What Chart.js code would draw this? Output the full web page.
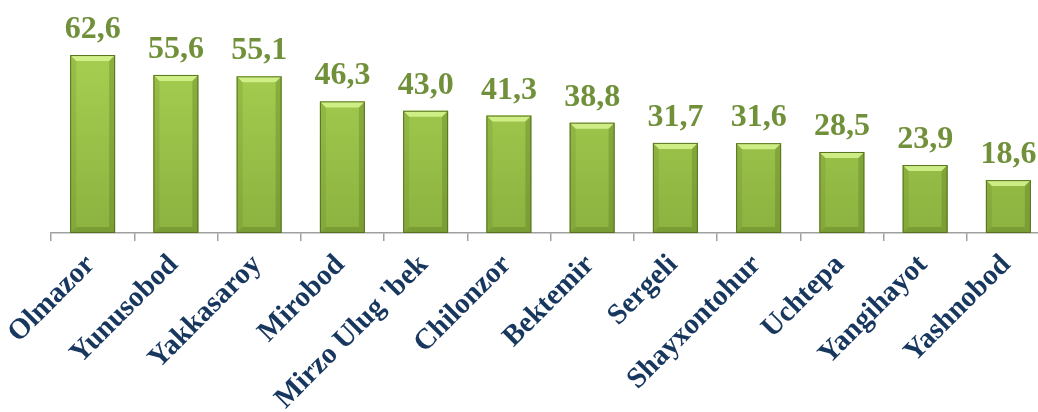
<!DOCTYPE html>
<html>
<head>
<meta charset="utf-8">
<script src="https://cdn.jsdelivr.net/npm/chart.js@4"></script>
<style>
  html, body { margin: 0; padding: 0; background: #fff; overflow: hidden; }
  #wrap { position: relative; width: 1050px; height: 412px; }
</style>
</head>
<body>
<div id="wrap"><canvas id="chart"></canvas></div>
<script>
const districts = ['Olmazor', 'Yunusobod', 'Yakkasaroy', 'Mirobod', "Mirzo Ulug 'bek", 'Chilonzor',
    'Bektemir', 'Sergeli', 'Shayxontohur', 'Uchtepa', 'Yangihayot', 'Yashnobod'];
const values = [62.6, 55.6, 55.1, 46.3, 43.0, 41.3, 38.8, 31.7, 31.6, 28.5, 23.9, 18.6];

const SERIF = "'Liberation Serif', 'Times New Roman', serif";

// bevel look of the bars (light top edge, darker sides/bottom)
const bevelPlugin = {
    id: 'bevel',
    afterDatasetsDraw(chart) {
        const ctx = chart.ctx;
        const meta = chart.getDatasetMeta(0);
        const b = 6;
        ctx.save();
        meta.data.forEach(bar => {
            const l = bar.x - bar.width / 2, r = bar.x + bar.width / 2;
            const t = bar.y, btm = bar.base;
            ctx.fillStyle = 'rgba(215, 245, 145, 0.85)';
            ctx.beginPath();
            ctx.moveTo(l, t); ctx.lineTo(r, t); ctx.lineTo(r - b, t + b); ctx.lineTo(l + b, t + b);
            ctx.closePath(); ctx.fill();
            ctx.fillStyle = 'rgba(80, 110, 25, 0.3)';
            ctx.beginPath();
            ctx.moveTo(r, t); ctx.lineTo(r, btm); ctx.lineTo(r - b, btm - b); ctx.lineTo(r - b, t + b);
            ctx.closePath(); ctx.fill();
            ctx.beginPath();
            ctx.moveTo(l, btm); ctx.lineTo(r, btm); ctx.lineTo(r - b, btm - b); ctx.lineTo(l + b, btm - b);
            ctx.closePath(); ctx.fill();
            ctx.fillStyle = 'rgba(80, 110, 25, 0.15)';
            ctx.beginPath();
            ctx.moveTo(l, t); ctx.lineTo(l, btm); ctx.lineTo(l + b, btm - b); ctx.lineTo(l + b, t + b);
            ctx.closePath(); ctx.fill();
            ctx.strokeStyle = '#56731f';
            ctx.lineWidth = 1;
            ctx.strokeRect(l + 0.5, t + 0.5, bar.width - 1, btm - t - 1);
        });
        ctx.restore();
    }
};

const valueLabels = {
    id: 'valueLabels',
    afterDatasetsDraw(chart) {
        const ctx = chart.ctx;
        const meta = chart.getDatasetMeta(0);
        ctx.save();
        ctx.font = 'bold 32px ' + SERIF;
        ctx.fillStyle = '#71903a';
        ctx.textAlign = 'center';
        ctx.textBaseline = 'alphabetic';
        meta.data.forEach((bar, i) => {
            ctx.fillText(values[i].toFixed(1).replace('.', ','), bar.x, bar.y - 17);
        });
        ctx.restore();
    }
};

const canvas = document.getElementById('chart');
const g = canvas.getContext('2d');

new Chart(canvas, {
    type: 'bar',
    data: {
        labels: districts,
        datasets: [{
            data: values,
            backgroundColor: (c) => {
                const area = c.chart.chartArea;
                if (!area) return '#9bc34a';
                const grad = g.createLinearGradient(0, area.top, 0, area.bottom);
                grad.addColorStop(0, '#a9d252');
                grad.addColorStop(1, '#8cb240');
                return grad;
            },
            borderWidth: 0,
            barPercentage: 0.54,
            categoryPercentage: 1.0,
        }],
    },
    options: {
        responsive: true,
        maintainAspectRatio: false,
        animation: false,
        layout: { padding: { left: 51, top: 34, right: 0, bottom: 0 } },
        plugins: {
            legend: { display: false },
            tooltip: { enabled: false },
        },
        scales: {
            x: {
                offset: true,
                border: { color: '#a0a0a0', width: 1.5 },
                grid: { offset: true, drawOnChartArea: false, color: '#a0a0a0', tickLength: 8, lineWidth: 1.5 },
                ticks: {
                    color: '#17375e',
                    font: { family: SERIF, size: 29, weight: 'bold' },
                    minRotation: 45,
                    maxRotation: 45,
                    autoSkip: false,
                    padding: 7,
                    labelOffset: -2,
                },
                afterFit(scale) { scale.height = 179; },
            },
            y: {
                display: false,
                min: 0,
                max: 70,
            },
        },
    },
    plugins: [bevelPlugin, valueLabels],
});
</script>
</body>
</html>
